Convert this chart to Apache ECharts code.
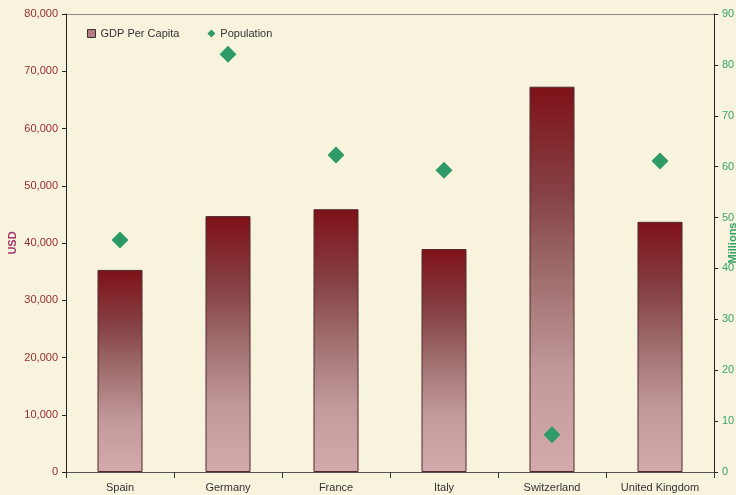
<!DOCTYPE html>
<html><head><meta charset="utf-8">
<script src="https://cdn.jsdelivr.net/npm/echarts@6/dist/echarts.min.js"></script>
<style>html,body{margin:0;padding:0;background:#f8f3dc;}#c{width:736px;height:495px;}</style>
</head><body><div id="c"></div>
<script>
const categories = ['Spain','Germany','France','Italy','Switzerland','United Kingdom'];
const gdpPerCapita = [35300, 44700, 45900, 38950, 67300, 43700];
const population = [45.6, 82.1, 62.3, 59.3, 7.3, 61.1];

const chart = echarts.init(document.getElementById('c'));
const font = 'Arial, "Liberation Sans", sans-serif';
chart.setOption({
  backgroundColor: '#f8f3dc',
  animation: false,
  textStyle: {fontFamily: font},
  legend: {
    left: 82, top: 23, itemGap: 28, itemWidth: 8, itemHeight: 8,
    textStyle: {fontSize: 11, color: '#333', fontFamily: font},
    data: [
      {name: 'GDP Per Capita', icon: 'rect', itemStyle: {color: '#b77b80', borderColor: '#333', borderWidth: 1}},
      {name: 'Population', icon: 'diamond'}
    ]
  },
  grid: {left: 66, right: 22, top: 14, bottom: 23, show: false, containLabel: false, outerBoundsMode: 'none'},
  xAxis: {
    type: 'category', data: categories,
    axisLine: {lineStyle: {color: '#555', width: 1}},
    axisTick: {show: true, length: 6, lineStyle: {color: '#333'}},
    axisLabel: {color: '#333', fontSize: 11, margin: 10, fontFamily: font}
  },
  yAxis: [{
    type: 'value', min: 0, max: 80000, interval: 10000, position: 'left',
    name: 'USD', nameLocation: 'middle', nameGap: 48, nameRotate: 90, nameMoveOverlap: false,
    nameTextStyle: {color: '#a3336b', fontWeight: 'bold', fontSize: 11, fontFamily: font},
    axisLine: {show: true, lineStyle: {color: '#222'}},
    axisTick: {show: true, length: 4, inside: false, lineStyle: {color: '#222'}},
    axisLabel: {color: '#9a2a32', fontSize: 11, margin: 8, fontFamily: font,
      formatter: v => v.toLocaleString('en-US')},
    splitLine: {show: false}
  }, {
    type: 'value', min: 0, max: 90, interval: 10, position: 'right',
    name: 'Millions', nameLocation: 'middle', nameGap: 13, nameRotate: 90, nameMoveOverlap: false,
    nameTextStyle: {color: '#35a068', fontWeight: 'bold', fontSize: 11, fontFamily: font},
    axisLine: {show: true, lineStyle: {color: '#222'}},
    axisTick: {show: true, length: 4, lineStyle: {color: '#222'}},
    axisLabel: {color: '#3aa46e', fontSize: 11, margin: 8, fontFamily: font},
    splitLine: {show: false}
  }],
  graphic: [{type: 'line', shape: {x1: 66, y1: 14.5, x2: 714, y2: 14.5}, style: {stroke: '#8a8a8a', lineWidth: 1}, silent: true}],
  series: [{
    name: 'GDP Per Capita', type: 'bar', data: gdpPerCapita, yAxisIndex: 0,
    barWidth: 45,
    itemStyle: {
      borderColor: '#4e2a2e', borderWidth: 1,
      color: new echarts.graphic.LinearGradient(0, 0, 0, 1, [
        {offset: 0, color: '#7e1118'},
        {offset: 0.28, color: '#864245'},
        {offset: 0.5, color: '#a06f70'},
        {offset: 0.75, color: '#c39a9c'},
        {offset: 1, color: '#d4aaac'}
      ], false)
    }
  }, {
    name: 'Population', type: 'scatter', data: population, yAxisIndex: 1,
    symbol: 'diamond', symbolSize: 17,
    itemStyle: {color: '#2e9a68', opacity: 1}
  }]
});
</script></body></html>
